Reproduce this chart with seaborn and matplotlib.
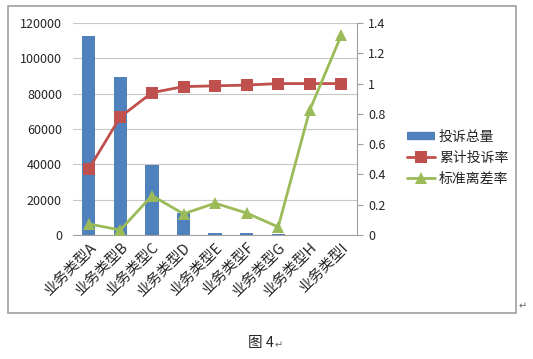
import numpy as np
import pandas as pd
import matplotlib.pyplot as plt
import seaborn as sns
from matplotlib.patches import Rectangle
from matplotlib.lines import Line2D

sns.set_style("white")
plt.rcParams['font.family'] = ['Noto Sans CJK SC', 'DejaVu Sans']

# data
categories = ["业务类型A", "业务类型B", "业务类型C", "业务类型D", "业务类型E",
              "业务类型F", "业务类型G", "业务类型H", "业务类型I"]
total = [112600, 89400, 39600, 12400, 1100, 1000, 500, 0, 0]
cum_rate = [0.436, 0.78, 0.94, 0.98, 0.985, 0.99, 1.0, 1.0, 1.0]
std_rate = [0.073, 0.033, 0.26, 0.14, 0.21, 0.145, 0.053, 0.825, 1.32]

blue, red, green = "#4F81BD", "#C0504D", "#9BBB59"

df = pd.DataFrame({"cat": categories, "total": total})

fig = plt.figure(figsize=(5.33, 3.59), dpi=100)
ax = fig.add_axes([0.137, 0.3454, 0.533, 0.5905])

sns.barplot(data=df, x="cat", y="total", color=blue, width=0.42, saturation=1,
            linewidth=0, ax=ax)
ax.set_ylim(0, 120000)
ax.set_xlim(-0.5, len(categories) - 0.5)
ax.set_yticks(np.arange(0, 120001, 20000))
ax.yaxis.grid(True, color="#c8c8c8", lw=0.8)
ax.set_axisbelow(True)
ax.set_xlabel("")
ax.set_ylabel("")
for s in ["top", "left", "right"]:
    ax.spines[s].set_visible(False)
ax.spines["bottom"].set_color("#a0a0a0")
ax.set_xticks(np.arange(len(categories)))
ax.set_xticklabels(categories, rotation=45, ha="right", rotation_mode="anchor", fontsize=10.5)
ax.tick_params(axis="x", length=0, pad=4)
ax.set_xticks(np.arange(-0.5, len(categories)), minor=True)
ax.tick_params(axis="x", which="minor", length=4, color="#a0a0a0", direction="out")
ax.tick_params(axis="y", length=0, labelsize=9, pad=8)

ax2 = ax.twinx()
x = np.arange(len(categories))
sns.lineplot(x=x, y=cum_rate, ax=ax2, color=red, lw=2, marker="s", markersize=8,
             markeredgewidth=0)
sns.lineplot(x=x, y=std_rate, ax=ax2, color=green, lw=2, marker="^", markersize=9,
             markeredgewidth=0)
ax2.set_ylim(0, 1.4)
ax2.set_yticks(np.arange(0, 1.41, 0.2))
ax2.set_yticklabels(["0", "0.2", "0.4", "0.6", "0.8", "1", "1.2", "1.4"])
ax2.tick_params(axis="y", length=4, color="#a0a0a0", direction="out", labelsize=9, pad=4)
for s in ["top", "left", "bottom"]:
    ax2.spines[s].set_visible(False)
ax2.spines["right"].set_color("#a0a0a0")

handles = [Line2D([], [], color=blue, lw=6, solid_capstyle="butt"),
           Line2D([], [], color=red, lw=2, marker="s", markersize=8, markeredgewidth=0),
           Line2D([], [], color=green, lw=2, marker="^", markersize=9, markeredgewidth=0)]
labels = ["投诉总量", "累计投诉率", "标准离差率"]
fig.legend(handles, labels, loc="center left", bbox_to_anchor=(0.74, 0.56),
           frameon=False, fontsize=10, handlelength=2.0, handletextpad=0.3,
           labelspacing=0.5)

# chart frame
fig.patches.append(Rectangle((8 / 533, 1 - 313 / 359), 508 / 533, 307 / 359,
                             transform=fig.transFigure, fill=False,
                             edgecolor="#a0a0a0", lw=1.2))
fig.text(519 / 533, 1 - 306 / 359, "↵", fontsize=7, color="#666666",
         ha="left", va="center")
fig.text(0.515, 1 - 343 / 359, "图 4", fontsize=10.5, ha="right", va="center")
fig.text(0.515, 1 - 345 / 359, "↵", fontsize=7, color="#666666", ha="left", va="center")

fig.savefig("out.png", dpi=100)
